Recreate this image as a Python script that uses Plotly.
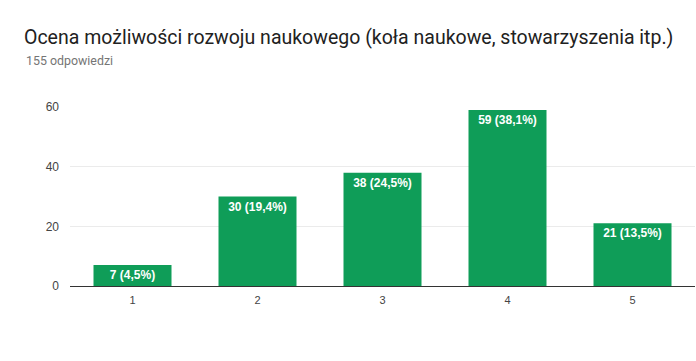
import plotly.graph_objects as go

categories = ["1", "2", "3", "4", "5"]
counts = [7, 30, 38, 59, 21]
labels = ["7 (4,5%)", "30 (19,4%)", "38 (24,5%)", "59 (38,1%)", "21 (13,5%)"]
y_ticks = [0, 20, 40, 60]

title_text = "Ocena możliwości rozwoju naukowego (koła naukowe, stowarzyszenia itp.)"
subtitle_text = "155 odpowiedzi"

fig = go.Figure(
    go.Bar(
        x=categories,
        y=counts,
        text=labels,
        textposition="inside",
        insidetextanchor="end",
        constraintext="none",
        textfont=dict(family="Liberation Sans, Arial, sans-serif", size=12, color="white", weight="bold"),
        marker=dict(color="#0f9d58", line=dict(width=0)),
        width=0.624,
        hoverinfo="skip",
    )
)

W, H = 696, 361
L, R, T, B = 70, 1, 107, 75
ph = H - T - B

fig.update_layout(
    width=W,
    height=H,
    margin=dict(l=L, r=R, t=T, b=B, pad=0),
    paper_bgcolor="white",
    plot_bgcolor="white",
    showlegend=False,
    title=dict(
        text=title_text,
        xref="container",
        yref="container",
        x=24 / W,
        xanchor="left",
        y=1 - 37 / H,
        yanchor="middle",
        font=dict(family="Roboto, sans-serif", size=19.5, color="#212121"),
    ),
    annotations=[
        dict(
            text=subtitle_text,
            xref="paper",
            yref="paper",
            x=(24 - L) / (W - L - R),
            y=(H - B - 60) / ph,
            xanchor="left",
            yanchor="middle",
            showarrow=False,
            font=dict(family="Roboto, sans-serif", size=12.4, color="#757575"),
        )
    ],
    xaxis=dict(
        type="category",
        showgrid=False,
        showline=True,
        linecolor="#333333",
        linewidth=1,
        ticks="",
        tickfont=dict(family="Liberation Sans, Arial, sans-serif", size=11, color="#444444"),
        ticklabelstandoff=4,
    ),
    yaxis=dict(
        range=[0, 60],
        tickvals=y_ticks,
        showgrid=True,
        gridcolor="#ebebeb",
        gridwidth=1,
        zeroline=False,
        showline=False,
        ticks="",
        tickfont=dict(family="Liberation Sans, Arial, sans-serif", size=12, color="#444444"),
        ticklabelstandoff=10,
    ),
)

fig.write_html(
    "out.html",
    config={"displayModeBar": False},
    post_script="document.body.style.margin='0';",
)
